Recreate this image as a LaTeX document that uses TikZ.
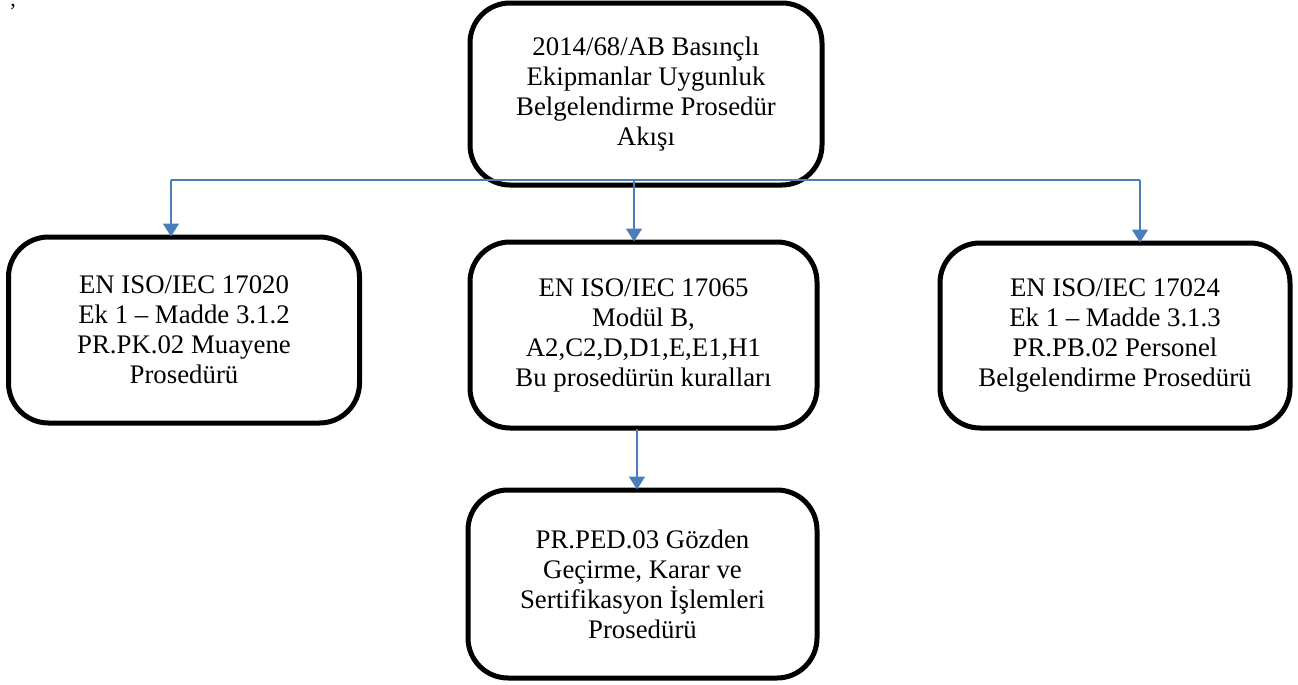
\documentclass[tikz,border=0pt]{standalone}
\usepackage{fontspec}
\setmainfont{Liberation Serif}
\usetikzlibrary{arrows.meta}
\definecolor{conblue}{HTML}{4A7EBB}
\tikzset{
  box/.style={draw=black, line width=2.5pt, rounded corners=20pt, fill=white,
    align=center, inner sep=0pt, font=\fontsize{13.4pt}{15pt}\selectfont},
  conn/.style={draw=conblue, line width=0.9pt},
  arr/.style={conn, -{Triangle[width=8pt,length=6.5pt]}, shorten >=-1pt}
}
\begin{document}
\begin{tikzpicture}[x=0.5pt,y=-0.5pt]
\useasboundingbox (0,0) rectangle (1298,685);
\node[font=\fontsize{11pt}{12pt}\selectfont, anchor=base, inner sep=0pt] (comma) at (13,6) {,};
\node[box, minimum width=176pt, minimum height=91pt] (top) at (646,94)
  {2014/68/AB Basınçlı\\Ekipmanlar Uygunluk\\Belgelendirme Prosedür\\Akışı};
\node[box, minimum width=175.5pt, minimum height=93pt] (left) at (184,330)
  {EN ISO/IEC 17020\\Ek 1 – Madde 3.1.2\\PR.PK.02 Muayene\\Prosedürü};
\node[box, minimum width=173.5pt, minimum height=93pt] (mid) at (643.5,335)
  {EN ISO/IEC 17065\\Modül B,\\A2,C2,D,D1,E,E1,H1\\Bu prosedürün kuralları};
\node[box, minimum width=175pt, minimum height=92.5pt] (right) at (1115,335.5)
  {EN ISO/IEC 17024\\Ek 1 – Madde 3.1.3\\PR.PB.02 Personel\\Belgelendirme Prosedürü};
\node[box, minimum width=174.5pt, minimum height=94pt] (bot) at (642.5,584)
  {PR.PED.03 Gözden\\Geçirme, Karar ve\\Sertifikasyon İşlemleri\\Prosedürü};
\coordinate (hl) at (171,180);
\coordinate (hr) at (1140,180);
\coordinate (hm) at (634,180);
\coordinate (vm) at (637,429);
\draw[conn] (hl) -- (hr);
\draw[arr] (hl) -- (hl |- left.north);
\draw[arr] (hm) -- (hm |- mid.north);
\draw[arr] (hr) -- (hr |- right.north);
\draw[arr] (vm) -- (vm |- bot.north);
\end{tikzpicture}
\end{document}
